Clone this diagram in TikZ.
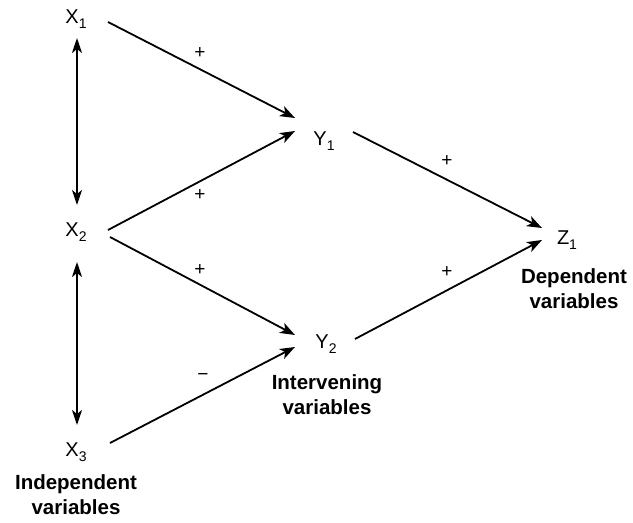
\documentclass[tikz,border=0pt]{standalone}
\usepackage{fontspec}
\setmainfont{Liberation Sans}
\usetikzlibrary{arrows.meta,calc}
\newcommand\lowsub[1]{\raisebox{-0.45ex}{\fontsize{14}{14}\selectfont #1}}
\tikzset{
  var/.style={inner sep=0pt, font=\fontsize{20}{20}\selectfont},
  lbl/.style={inner sep=0pt, align=center, font=\fontsize{20.5}{25}\selectfont\bfseries},
  sgn/.style={inner sep=0pt, font=\fontsize{19}{19}\selectfont},
  tip/.style={},
  arr/.style={line width=1.8pt, -{Stealth[length=15pt,width=11pt,inset=4pt]}},
  darr/.style={line width=1.8pt, {Stealth[length=15pt,width=10pt,inset=4pt]}-{Stealth[length=15pt,width=10pt,inset=4pt]}}
}
\begin{document}
\begin{tikzpicture}[x=1pt,y=-1pt]
\useasboundingbox (0,0) rectangle (633,523);
\node[var] (X1) at (76,19) {X\lowsub{1}};
\node[var] (X2) at (76,232) {X\lowsub{2}};
\node[var] (X3) at (76,452) {X\lowsub{3}};
\node[var] (Y1) at (324,141) {Y\lowsub{1}};
\node[var] (Y2) at (326,344) {Y\lowsub{2}};
\node[var] (Z1) at (567,240) {Z\lowsub{1}};
\node[lbl] (L1) at (76,495) {Independent\\variables};
\node[lbl] (L2) at (327,395) {Intervening\\variables};
\node[lbl] (L3) at (574,289) {Dependent\\variables};
% connectors
\draw[arr] ($(X1)+(32,3)$) -- ($(Y1)+(-29,-23)$);
\draw[arr] ($(X2)+(32,-2)$) -- ($(Y1)+(-29,-10)$);
\draw[arr] ($(X2)+(34,5)$) -- ($(Y2)+(-31,-9)$);
\draw[arr] ($(X3)+(34,-9)$) -- ($(Y2)+(-31,3)$);
\draw[arr] ($(Y1)+(29,-9)$) -- ($(Z1)+(-25,-12)$);
\draw[arr] ($(Y2)+(29,-5)$) -- ($(Z1)+(-25,0)$);
\draw[darr] ($(X1)+(1,19)$) -- ($(X2)+(1,-27)$);
\draw[darr] ($(X2)+(1,30)$) -- ($(X3)+(1,-27)$);
% signs
\node[sgn] (s1) at (200,53) {+};
\node[sgn] (s2) at (200,195) {+};
\node[sgn] (s3) at (200,270) {+};
\node[sgn] (s4) at (203,377) {−};
\node[sgn] (s5) at (447,161) {+};
\node[sgn] (s6) at (447,272) {+};
\end{tikzpicture}
\end{document}
